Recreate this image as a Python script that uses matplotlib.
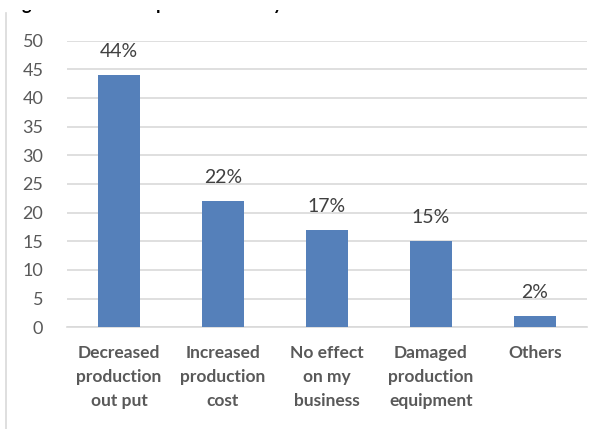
import matplotlib
matplotlib.use("Agg")
import matplotlib.pyplot as plt
from matplotlib.lines import Line2D
from matplotlib.patches import Rectangle

# survey results: effect on the business (percent of respondents)
categories = ["Decreased\nproduction\nout put", "Increased\nproduction\ncost",
              "No effect\non my\nbusiness", "Damaged\nproduction\nequipment", "Others"]
values = [44, 22, 17, 15, 2]
yticks = [0, 5, 10, 15, 20, 25, 30, 35, 40, 45, 50]

plt.rcParams['font.family'] = ['Lato', 'DejaVu Sans']

fig = plt.figure(figsize=(6.1, 4.29), dpi=100)
ax = fig.add_axes([0.1098, 0.237, 0.8525, 0.6684])

x = range(len(values))
bars = ax.bar(x, values, width=0.4, color='#5580BA', zorder=3)

for rect, v in zip(bars, values):
    ax.annotate(f"{v}%", (rect.get_x() + rect.get_width() / 2, v),
                xytext=(0, 11), textcoords='offset points',
                ha='center', va='bottom', fontsize=14, color='#404040')

ax.set_xlim(-0.5, len(values) - 0.5)
ax.set_ylim(0, 50)
ax.set_yticks(yticks)
ax.set_xticks(list(x))
ax.set_xticklabels(categories, fontsize=12.5, fontweight='bold', color='#595959',
                   linespacing=1.6)
ax.tick_params(axis='y', length=0, pad=17, labelsize=13, labelcolor='#595959')
ax.tick_params(axis='x', length=0, pad=13)
ax.yaxis.grid(True, color='#d9d9d9', linewidth=1.2, zorder=0)
for side in ['top', 'right', 'left']:
    ax.spines[side].set_visible(False)
ax.spines['bottom'].set_color('#d9d9d9')
ax.spines['bottom'].set_linewidth(1.2)

# light frame edge on the left
fig.add_artist(Line2D([0.0098, 0.0098], [0.0, 0.97], transform=fig.transFigure,
                      color='#d9d9d9', linewidth=1.2))

# heading above the chart, only its descenders fall inside the frame
clip_rect = Rectangle((0, 0.965), 1, 0.012, transform=fig.transFigure,
                      facecolor='none', edgecolor='none')
for xpos, ch in [(0.036, 'g'), (0.255, 'p'), (0.448, 'y')]:
    t = fig.text(xpos, 0.977, ch, fontsize=13, fontweight='bold', color='black',
                 ha='left', va='baseline')
    t.set_clip_path(clip_rect)
    t.set_clip_on(True)

fig.savefig("out.png", dpi=100)
